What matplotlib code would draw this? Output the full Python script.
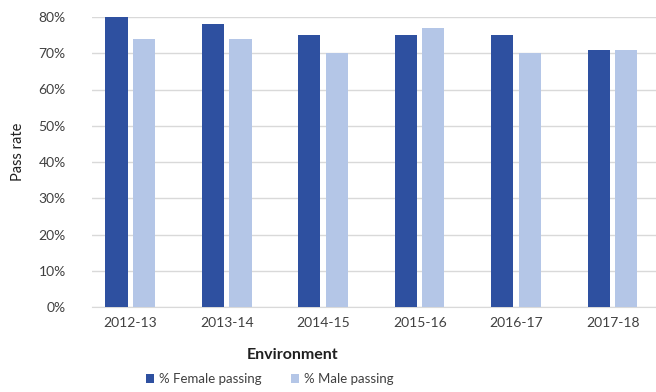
import matplotlib
matplotlib.use("Agg")
import matplotlib.pyplot as plt
import numpy as np
from matplotlib.ticker import PercentFormatter

years = ["2012-13", "2013-14", "2014-15", "2015-16", "2016-17", "2017-18"]
female_pass = [80, 78, 75, 75, 75, 71]
male_pass = [74, 74, 70, 77, 70, 71]

plt.rcParams["font.family"] = ["Lato", "DejaVu Sans"]

fig = plt.figure(figsize=(6.56, 3.92), dpi=100)
ax = fig.add_axes([92 / 656, 85 / 392, 564 / 656, 290 / 392])

x = np.arange(len(years))
w = 0.23
ax.bar(x - 0.145, female_pass, w, color="#2E50A0", label="% Female passing", zorder=3)
ax.bar(x + 0.14, male_pass, w, color="#B4C6E7", label="% Male passing", zorder=3)

ax.set_ylim(0, 80)
ax.set_xlim(-0.40, 5.45)
ax.set_yticks(range(0, 81, 10))
ax.yaxis.set_major_formatter(PercentFormatter(decimals=0))
ax.set_xticks(x)
ax.set_xticklabels(years)
ax.grid(axis="y", color="#D9D9D9", linewidth=1, zorder=0)
for side in ["top", "right", "left"]:
    ax.spines[side].set_visible(False)
ax.spines["bottom"].set_color("#D9D9D9")
ax.tick_params(length=0, labelsize=10, colors="#404040")
ax.tick_params(axis="y", pad=19)
ax.tick_params(axis="x", pad=7)

fig.text(18 / 656, 1 - 152 / 392, "Pass rate", rotation=90, ha="center", va="center",
         fontsize=10.5, color="#202020")
fig.text(293 / 656, 1 - 355 / 392, "Environment", ha="center", va="center",
         fontsize=11.5, fontweight="bold", color="#202020")

fig.legend(loc="center", bbox_to_anchor=(270 / 656, 1 - 379 / 392), ncol=2, frameon=False,
           fontsize=9.5, handlelength=0.6, handleheight=0.6, columnspacing=2.2,
           handletextpad=0.4, labelcolor="#404040")

fig.savefig("out.png", dpi=100)
